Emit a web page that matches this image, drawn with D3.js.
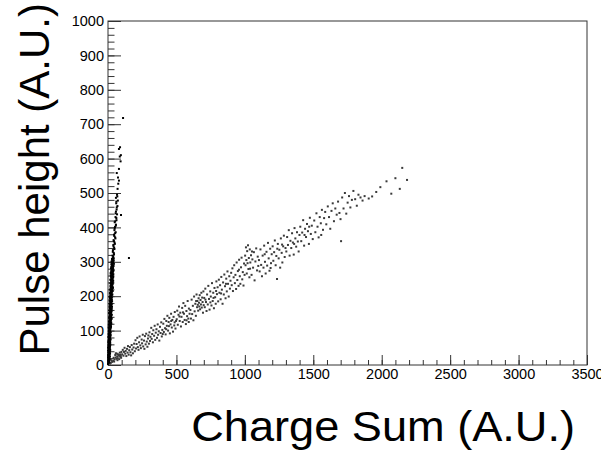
<!DOCTYPE html>
<html>
<head>
<meta charset="utf-8">
<script src="https://cdn.jsdelivr.net/npm/d3@7"></script>
<style>
  body { margin: 0; background: #fff; }
  svg { display: block; font-family: "Liberation Sans", Arial, sans-serif; }
</style>
</head>
<body>
<div id="chart"></div>
<script>
// axis labels
const xTicks = [0, 500, 1000, 1500, 2000, 2500, 3000, 3500];
const yTicks = [0, 100, 200, 300, 400, 500, 600, 700, 800, 900, 1000];
const xTitle = 'Charge Sum (A.U.)';
const yTitle = 'Pulse height (A.U.)';

// steep branch: [charge sum, pulse height]
const steepBranch = [
  [2,5],[5,8],[1,10],[8,12],[3,14],[6,15],[10,17],[4,19],[7,21],[2,23],[11,24],[5,26],[8,28],[3,30],[12,31],[6,33],
  [9,35],[4,37],[13,39],[7,41],[10,43],[5,45],[14,46],[8,48],[3,50],[11,52],[6,54],[15,56],[9,58],[4,60],[12,62],
  [7,64],[16,65],[10,67],[5,69],[13,71],[8,73],[17,75],[11,77],[6,79],[14,81],[9,83],[18,85],[12,87],[7,89],[15,91],
  [10,93],[19,95],[13,97],[8,99],
  [0,3],[4,6],[9,9],[1,13],[12,16],[3,18],[9,20],[0,22],[14,25],[6,27],[1,29],[10,32],[15,34],[2,36],[8,38],[12,40],
  [0,42],[16,44],[6,47],[11,49],[1,51],[14,53],[9,55],[3,57],[17,59],[7,61],[12,63],[2,66],[15,68],[9,70],[4,72],
  [18,74],[11,76],[7,78],[16,80],[3,82],[12,84],[8,86],[19,88],[5,90],[14,92],[10,94],[17,96],[6,98],
  [11,101],[17,103],[8,106],[14,108],[21,110],[10,112],[16,115],[6,117],[19,119],[13,121],[23,124],[9,126],[15,128],
  [20,131],[12,133],[18,135],[25,137],[10,140],[16,142],[22,144],[14,147],[19,149],[8,151],[24,153],[17,156],[13,158],
  [21,160],[27,163],[15,165],[19,167],[11,170],[24,172],[18,174],[14,177],[26,179],[20,181],[16,184],[23,186],[12,188],
  [28,190],[19,193],[15,195],[25,197],[21,199],
  [14,100],[9,104],[19,107],[5,109],[12,111],[22,113],[16,116],[8,118],[24,120],[11,123],[18,125],[7,127],[21,130],
  [14,132],[26,134],[9,136],[17,139],[23,141],[12,143],[28,146],[19,148],[11,150],[21,152],[15,155],[26,157],[10,159],
  [18,162],[24,164],[13,166],[29,169],[21,171],[16,173],[27,176],[12,178],[22,180],[18,183],[30,185],[14,187],[25,189],
  [21,192],[17,194],[28,196],[13,198],
  [17,202],[29,204],[22,206],[14,209],[26,211],[19,213],[31,216],[24,218],[16,220],[28,223],[21,225],[33,227],[18,230],
  [25,232],[30,234],[20,237],[27,239],[35,241],[23,244],[29,246],[17,248],[32,251],[25,253],[38,255],[21,258],[28,260],
  [34,262],[26,265],[19,267],[31,269],[37,272],[24,274],[29,276],[33,279],[22,281],[36,283],[27,286],[40,288],[30,290],
  [25,293],[34,295],[38,297],[28,300],[32,302],[41,304],[35,306],[30,309],[37,311],
  [23,201],[19,203],[32,205],[16,208],[27,210],[22,212],[34,215],[18,217],[29,219],[24,222],[36,224],[20,226],[31,229],
  [27,231],[23,233],[35,236],[18,238],[30,240],[26,243],[38,245],[21,247],[33,250],[28,252],[24,254],[36,257],[31,259],
  [20,261],[39,264],[27,266],[34,268],[23,270],[32,273],[41,275],[27,278],[35,280],[30,282],[25,285],[38,287],[33,289],
  [28,292],[43,294],[31,296],[36,299],[26,301],[39,303],[34,305],[29,308],[42,310],
  [38,315],[33,318],[44,322],[42,326],[35,329],[36,334],[47,337],[45,341],[40,345],[39,349],[50,352],[48,356],[43,360],
  [41,363],[54,368],[52,371],[46,375],[44,379],[52,383],[56,386],[47,392],[49,397],[51,401],[57,405],[58,408],[49,415],
  [53,418],[62,421],[61,427],[55,430],[66,438],[56,441],[58,446],[95,436],[63,452],[64,458],[69,462],[60,470],[61,475],
  [72,478],[58,486],[68,490],[66,495],[70,512],[75,527],[80,536],[73,545],[64,558],[80,570],[92,592],[86,606],[94,610],
  [80,628],[88,633],[110,718],[153,311]
];

// shallow branch: [charge sum, pulse height]
const shallowBranch = [
  [20,6],[30,9],[15,4],[38,12],[25,14],[45,10],
  [41,21],[47,16],[53,29],[56,22],[61,18],[64,33],[67,25],[71,20],[73,31],[79,27],[82,17],[86,36],[89,24],[91,30],
  [96,21],[98,38],[57,34],[69,14],[84,29],[93,26],
  [104,31],[108,44],[113,27],[117,38],[121,50],[126,33],[129,41],[134,26],[139,47],[143,36],[146,55],[151,30],[155,43],
  [160,52],[164,37],[169,28],[173,58],[177,45],[182,34],[187,51],[191,62],[196,40],
  [201,72],[205,48],[209,61],[214,79],[218,52],[223,44],[227,66],[231,83],[236,57],[240,49],[246,74],[249,63],[254,88],
  [257,54],[263,71],[266,47],[270,84],[275,60],[279,91],[283,68],[288,53],[292,77],[295,86],[299,62],
  [303,95],[307,70],[310,82],[316,108],[319,76],[323,90],[328,66],[331,101],[337,85],[341,114],[345,73],[349,94],
  [354,104],[358,79],[363,118],[366,88],[371,98],[375,71],[380,111],[384,93],[389,124],[393,83],[397,102],[400,90],
  [404,120],[408,96],[412,134],[417,107],[421,89],[426,128],[430,114],[434,143],[439,100],[443,125],[448,137],[452,92],
  [457,118],[461,149],[466,109],[470,131],[475,97],[479,140],[484,115],[488,154],[493,106],[497,128],[445,113],[425,104],
  [462,128],[487,124],
  [502,133],[506,158],[510,117],[515,146],[519,170],[524,128],[528,152],[533,112],[537,140],[542,166],[546,125],[551,180],
  [555,149],[560,131],[564,172],[569,119],[573,157],[578,142],[582,186],[587,135],[591,164],[596,149],[522,141],[548,153],
  [574,130],[590,125],
  [602,160],[606,135],[611,190],[615,148],[620,172],[624,130],[629,199],[633,156],[638,178],[642,143],[647,205],[651,168],
  [653,186],[656,175],[659,158],[662,194],[665,181],[667,170],[670,203],[673,162],[676,189],[679,176],[682,210],[685,167],
  [688,196],[691,183],[694,152],[697,214],[699,174],[644,186],
  [703,195],[707,168],[711,222],[716,183],[720,157],[724,205],[729,176],[733,230],[738,192],[742,161],[747,214],[751,199],
  [756,173],[760,238],[765,186],[769,210],[774,165],[778,224],[783,197],[787,178],[792,243],[796,206],[712,190],[748,182],
  [771,195],[790,215],
  [801,226],[805,185],[810,248],[814,210],[819,232],[823,191],[828,256],[832,219],[837,178],[841,240],[846,205],[850,263],
  [855,229],[859,194],[864,251],[868,214],[873,272],[877,236],[882,199],[886,258],[891,222],[895,245],[826,208],[862,236],
  [900,268],[904,232],[909,281],[913,215],[918,255],[922,290],[927,238],[931,262],[936,221],[940,298],[945,247],[949,273],
  [954,230],[958,306],[963,258],[967,236],[972,284],[976,312],[981,249],[985,270],[990,231],[994,295],[998,262],[957,277],
  [1002,318],[1005,290],[1008,342],[1011,305],[1014,266],[1017,331],[1020,296],[1023,348],[1026,279],[1029,311],
  [1033,255],[1036,336],[1040,298],[1045,319],[1049,262],[1055,307],[1060,283],[1066,328],[1071,246],[1077,301],
  [1083,339],[1089,275],[1094,315],[1098,288],[1038,280],[1052,330],
  [1103,305],[1108,272],[1114,336],[1119,291],[1125,258],[1130,318],[1136,283],[1141,347],[1147,300],[1152,266],
  [1158,329],[1163,289],[1169,355],[1174,310],[1180,274],[1185,338],[1191,296],[1196,322],[1145,322],[1188,282],
  [1203,345],[1208,303],[1214,328],[1219,362],[1225,290],[1230,317],[1235,250],[1241,352],[1247,310],[1252,335],
  [1258,283],[1263,368],[1269,326],[1274,298],[1280,345],[1285,376],[1291,314],[1297,340],[1237,338],[1272,350],
  [1303,330],[1309,372],[1315,349],[1321,392],[1327,318],[1333,361],[1339,340],[1345,383],[1351,356],[1357,321],
  [1363,398],[1369,368],[1375,344],[1381,386],[1387,359],[1393,330],[1399,378],[1360,352],
  [1405,402],[1412,360],[1419,385],[1426,421],[1433,347],[1440,396],[1447,372],[1454,410],[1461,389],[1468,352],
  [1475,428],[1482,381],[1489,405],[1496,366],[1436,378],[1470,402],
  [1507,420],[1515,386],[1523,441],[1531,402],[1539,371],[1547,430],[1555,412],[1563,451],[1571,393],[1579,427],
  [1587,445],[1595,409],[1558,378],
  [1606,461],[1615,430],[1624,396],[1633,448],[1642,470],[1651,418],[1661,455],[1671,437],[1681,475],[1691,442],[1699,424],
  [1703,360],[1711,487],[1721,455],[1731,500],[1741,440],[1751,472],[1761,491],[1771,458],[1782,480],[1793,506],
  [1806,482],[1818,463],[1830,495],[1845,487],[1860,478],[1875,491],
  [1905,484],[1930,490],[1960,503],[1990,517],[2035,534],[2070,498],[2100,543],[2132,512],[2150,573],[2185,538]
];

const w = 601, h = 450;
const frame = { left: 108, right: 587, top: 21, bottom: 365 };

let svg = d3.select('#chart')
  .append('svg')
  .attr('width', w)
  .attr('height', h);

const xScale = d3.scaleLinear()
  .domain([0, 3500])
  .range([frame.left, frame.right]);

const yScale = d3.scaleLinear()
  .domain([0, 1000])
  .range([frame.bottom, frame.top]);

// ROOT style ticks point into the frame
const xMinor = d3.axisBottom(xScale)
  .tickValues(d3.range(0, 3501, 100))
  .tickFormat('')
  .tickSize(-5);
const xAxis = d3.axisBottom(xScale)
  .tickValues(xTicks)
  .tickFormat(d3.format('d'))
  .tickSize(-10)
  .tickPadding(4);

const yMinor = d3.axisLeft(yScale)
  .tickValues(d3.range(0, 1001, 20))
  .tickFormat('')
  .tickSize(-6.5);
const yAxis = d3.axisLeft(yScale)
  .tickValues(yTicks)
  .tickFormat(d3.format('d'))
  .tickSize(-13)
  .tickPadding(4);

[xMinor, xAxis].forEach(ax => {
  svg.append('g')
    .attr('transform', 'translate(0,' + frame.bottom + ')')
    .call(ax);
});
[yMinor, yAxis].forEach(ax => {
  svg.append('g')
    .attr('transform', 'translate(' + frame.left + ',0)')
    .call(ax);
});

svg.selectAll('.domain').remove();
svg.selectAll('.tick line').attr('stroke', '#333').attr('stroke-width', 1);
svg.selectAll('.tick text')
  .attr('fill', '#000')
  .style('font-size', '14.5px');

// frame
svg.append('rect')
  .attr('x', frame.left)
  .attr('y', frame.top)
  .attr('width', frame.right - frame.left)
  .attr('height', frame.bottom - frame.top)
  .attr('fill', 'none')
  .attr('stroke', '#333')
  .attr('stroke-width', 1);

// points, the steep branch is drawn darker like in the original
function drawPoints(data, colour) {
  svg.append('g')
    .selectAll('rect')
    .data(data)
    .enter()
    .append('rect')
    .attr('x', d => xScale(d[0]) - 1)
    .attr('y', d => yScale(d[1]) - 1)
    .attr('width', 2)
    .attr('height', 2)
    .attr('fill', colour);
}
drawPoints(shallowBranch, '#3a3a3a');
drawPoints(steepBranch, '#000');

// titles
svg.append('text')
  .attr('transform', 'translate(575,441) scale(1.05,1)')
  .attr('text-anchor', 'end')
  .style('font-size', '43px')
  .text(xTitle);

svg.append('text')
  .attr('transform', 'translate(49,3) rotate(-90)')
  .attr('text-anchor', 'end')
  .style('font-size', '42px')
  .text(yTitle);
</script>
</body>
</html>
